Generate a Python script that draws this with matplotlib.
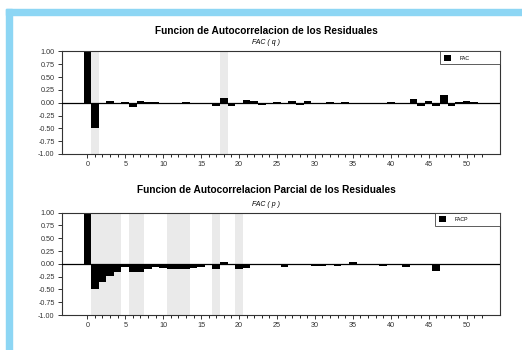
import matplotlib.pyplot as plt
from matplotlib.patches import Patch

plt.rcParams['font.family'] = ['Liberation Sans', 'DejaVu Sans']

# valores
lags_fac = list(range(0, 52))
fac = [1.00, -0.50, 0.00, 0.03, 0.00, 0.02, -0.09, 0.04, 0.02, 0.01,
       -0.02, 0.00, 0.00, 0.01, 0.00, 0.00, 0.00, -0.06, 0.10, -0.06,
       -0.03, 0.05, 0.04, -0.05, 0.00, 0.01, -0.01, 0.03, -0.04, 0.04,
       -0.02, 0.00, 0.01, -0.02, 0.02, 0.00, -0.01, -0.01, 0.00, 0.00,
       0.01, -0.02, 0.00, 0.07, -0.07, 0.03, -0.07, 0.15, -0.06, 0.01,
       0.03, 0.01]
lags_facp = list(range(0, 47))
facp = [1.00, -0.50, -0.36, -0.24, -0.16, -0.07, -0.16, -0.15, -0.10, -0.06,
        -0.08, -0.10, -0.10, -0.11, -0.09, -0.06, -0.01, -0.10, 0.03, 0.00,
        -0.11, -0.09, 0.00, -0.02, -0.02, -0.01, -0.06, 0.00, -0.03, 0.00,
        -0.05, -0.05, 0.00, -0.04, -0.03, 0.03, 0.00, -0.03, -0.02, -0.04,
        -0.01, -0.01, -0.06, 0.00, -0.02, 0.00, -0.14]
# rezagos significativos (bandas grises)
sig_fac = [1, 18]
sig_facp = [1, 2, 3, 4, 6, 7, 11, 12, 13, 17, 20]

titles = ["Funcion de Autocorrelacion de los Residuales",
          "Funcion de Autocorrelacion Parcial de los Residuales"]
subtitles = ["FAC ( q )", "FAC ( p )"]
legends = ["FAC", "FACP"]

fig = plt.figure(figsize=(5.22, 3.5), dpi=100)
W, H = 522, 350

# marco celeste
fig.patches.append(plt.Rectangle((6 / W, 1 - 15 / H), 1, 6 / H, transform=fig.transFigure,
                                 color='#8dd6f4', zorder=0))
fig.patches.append(plt.Rectangle((6 / W, 0), 6 / W, 1 - 9.3 / H, transform=fig.transFigure,
                                 color='#8dd6f4', zorder=0))

panels = [(51.5, 154, lags_fac, fac, sig_fac, 30.5, 43, 60),
          (212.7, 315, lags_facp, facp, sig_facp, 190, 205, 65)]

for i, (top, bot, lags, vals, sig, ty, sy, lw_px) in enumerate(panels):
    ax = fig.add_axes([61.5 / W, 1 - bot / H, (500 - 61.5) / W, (bot - top) / H])
    for s in sig:
        ax.axvspan(s - 0.5, s + 0.5, color='#eaeaea', lw=0, zorder=0)
    ax.bar(lags, vals, width=1.0, color='black', zorder=2)
    ax.axhline(0, color='black', lw=0.9, zorder=3)
    ax.set_xlim(-3.4, 54.4)
    ax.set_ylim(-1, 1)
    ax.set_xticks(range(0, 51, 5))
    ax.set_xticks(range(0, 53), minor=True)
    ax.set_yticks([-1, -0.75, -0.5, -0.25, 0, 0.25, 0.5, 0.75, 1])
    ax.set_yticklabels(['%.2f' % v for v in [-1, -0.75, -0.5, -0.25, 0, 0.25, 0.5, 0.75, 1]])
    ax.tick_params(labelsize=5.2, length=3, width=0.7, pad=2, colors='#333333')
    ax.tick_params(axis='x', which='minor', length=1.8, width=0.6)
    for sp in ax.spines.values():
        sp.set_linewidth(0.8)
        sp.set_color('#333333')
    wfrac = lw_px / (500 - 61.5)
    leg = ax.legend(handles=[Patch(facecolor='black', label=legends[i])], loc='upper left',
                    bbox_to_anchor=(1 - wfrac, 0, wfrac, 1), mode='expand',
                    fontsize=3.8, frameon=True, fancybox=False, edgecolor='#333333',
                    borderaxespad=0, handlelength=1.4, handleheight=1.2,
                    handletextpad=1.6, borderpad=0.7)
    leg.get_frame().set_linewidth(0.7)
    fig.text(266 / W, 1 - ty / H, titles[i], ha='center', va='center',
             fontsize=7.3, fontweight='bold')
    fig.text(266 / W, 1 - sy / H, subtitles[i], ha='center', va='center',
             fontsize=5, style='italic')

fig.savefig('out.png', dpi=100)
